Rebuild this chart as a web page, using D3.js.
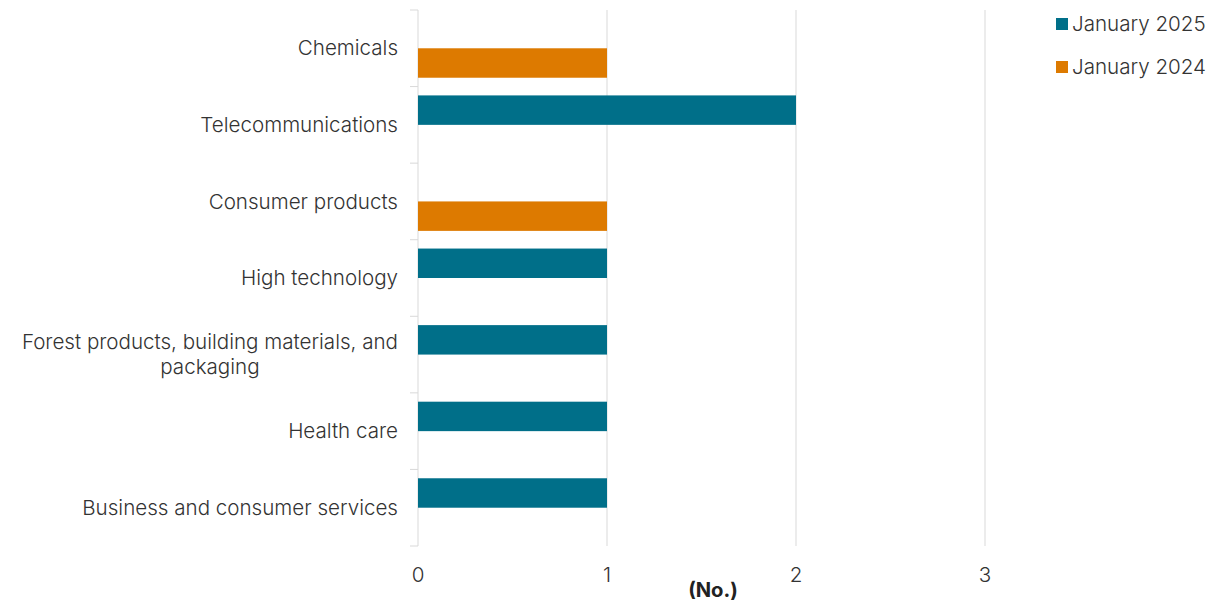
<!DOCTYPE html>
<html><head><meta charset="utf-8">
<script src="https://cdn.jsdelivr.net/npm/d3@7"></script>
<style>body{margin:0;background:#fff}svg{display:block}</style>
</head><body>
<svg id="c" width="1209" height="603"></svg>
<script>
const categories = ["Chemicals","Telecommunications","Consumer products","High technology","Forest products, building materials, and packaging","Health care","Business and consumer services"];
const categoryLines = [["Chemicals"],["Telecommunications"],["Consumer products"],["High technology"],["Forest products, building materials, and","packaging"],["Health care"],["Business and consumer services"]];
const seriesNames = ["January 2025","January 2024"];
const jan2025 = [0,2,0,1,1,1,1];
const jan2024 = [1,0,1,0,0,0,0];
const xTicks = [0,1,2,3];
const colors = ["#006F89","#DD7A00"];

(function(){
const svg = d3.select("#c");
const font = "Inter, Roboto, 'Liberation Sans', sans-serif";
// calibrate font size so the longest single-line label spans ~316px
const probe = svg.append("text").attr("font-family",font).attr("font-size",20).attr("font-weight",300).text("Business and consumer services");
const fs = 20 * 316 / probe.node().getComputedTextLength();
probe.remove();

const L = 418, R = 985, T = 10, B = 546;
const x = d3.scaleLinear().domain([0,3]).range([L,R]);
const y0 = d3.scaleBand().domain(categories).range([T,B]).padding(0);
const y1 = d3.scaleBand().domain(seriesNames).range([0,y0.bandwidth()]).paddingOuter(0.3).paddingInner(0);
const grid = "#d9d9d9";

svg.append("g").selectAll("line").data(xTicks).join("line")
  .attr("x1",d=>x(d)).attr("x2",d=>x(d)).attr("y1",T).attr("y2",B)
  .attr("stroke",grid).attr("stroke-width",1);

const bounds = categories.map(c=>y0(c)).concat([B]);
svg.append("g").selectAll("line").data(bounds).join("line")
  .attr("x1",L-8).attr("x2",L).attr("y1",d=>d).attr("y2",d=>d)
  .attr("stroke",grid).attr("stroke-width",1);

const data = categories.map((c,i)=>({c, vals:[jan2025[i],jan2024[i]]}));
const g = svg.append("g").selectAll("g").data(data).join("g")
  .attr("transform",d=>`translate(0,${y0(d.c)})`);
g.selectAll("rect").data(d=>d.vals.map((v,j)=>({v,s:seriesNames[j],j})).filter(d=>d.v>0)).join("rect")
  .attr("x",x(0)).attr("y",d=>y1(d.s)).attr("width",d=>x(d.v)-x(0)).attr("height",y1.bandwidth())
  .attr("fill",d=>colors[d.j]);

const lab = svg.append("g");
categoryLines.forEach((lines,i)=>{
  const cy = y0(categories[i]) + y0.bandwidth()/2;
  const lh = 25;
  const t = lab.append("text").attr("font-family",font).attr("font-size",fs).attr("font-weight",300).attr("fill","#333");
  const tsp = lines.map(ln=>t.append("tspan").text(ln));
  const widths = tsp.map(s=>s.node().getComputedTextLength());
  const maxW = d3.max(widths);
  const cx = 398 - maxW/2;
  tsp.forEach((s,k)=>{
    s.attr("x", lines.length>1 ? cx : 398).attr("text-anchor", lines.length>1?"middle":"end")
     .attr("y", cy + (k-(lines.length-1)/2)*lh).attr("dy","0.35em");
  });
});

svg.append("g").selectAll("text").data(xTicks).join("text")
  .attr("x",d=>x(d)).attr("y",575).attr("dy","0.35em").attr("text-anchor","middle")
  .attr("font-family",font).attr("font-size",fs).attr("font-weight",300).attr("fill","#333")
  .text(d=>d);
svg.append("text").attr("x",713).attr("y",590).attr("dy","0.35em").attr("text-anchor","middle")
  .attr("font-family",font).attr("font-size",fs*0.98).attr("font-weight",700).attr("fill","#222").text("(No.)");

const lg = svg.append("g");
seriesNames.forEach((s,i)=>{
  const yy = 24 + i*43;
  lg.append("rect").attr("x",1056).attr("y",yy-6).attr("width",12).attr("height",12).attr("fill",colors[i]);
  lg.append("text").attr("x",1072).attr("y",yy).attr("dy","0.35em")
    .attr("font-family",font).attr("font-size",fs).attr("font-weight",300).attr("fill","#333").text(s);
});
})();
</script>
</body></html>
